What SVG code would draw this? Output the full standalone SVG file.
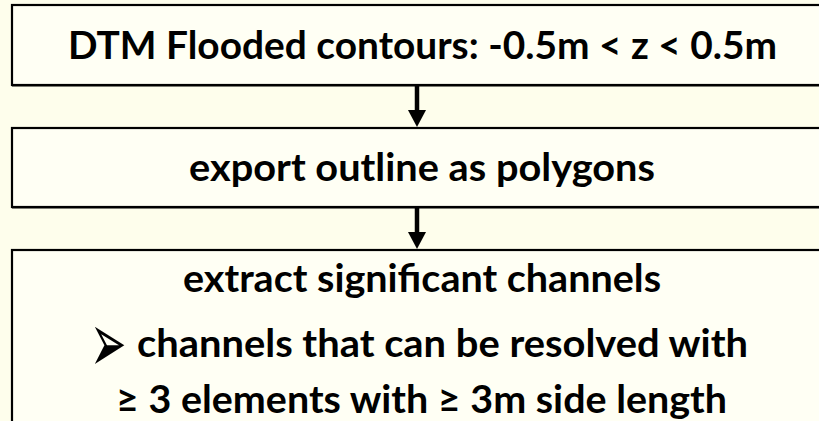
<svg xmlns="http://www.w3.org/2000/svg" width="819" height="421" viewBox="0 0 819 421">
  <defs>
    <style>
      .box { fill: #FFFFF4; stroke: #000; stroke-width: 2.2; }
      .shadow { fill: none; stroke: #8a8a80; stroke-width: 2; }
      .lbl { font-family: Lato, "Open Sans", "Liberation Sans", sans-serif; font-weight: 700; font-size: 39px; fill: #000; }
      .bullet { font-family: "DejaVu Sans", sans-serif; font-size: 50px; fill: #000; }
      .conn { stroke: #000; stroke-width: 4.5; fill: none; }
    </style>
    <marker id="head" markerUnits="userSpaceOnUse" markerWidth="18" markerHeight="18" viewBox="0 0 18 18" refX="1" refY="9" orient="auto">
      <path d="M0,0 L17,9 L0,18 Z" fill="#000"/>
    </marker>
  </defs>
  <rect x="0" y="0" width="819" height="421" fill="#FEFEEC"/>

  <g id="node-flooded">
    <rect class="shadow" x="13" y="6" width="820" height="80"/>
    <rect class="box" x="12" y="5" width="820" height="80"/>
    <text class="lbl" x="68" y="59" textLength="709" lengthAdjust="spacingAndGlyphs">DTM Flooded contours: -0.5m &lt; z &lt; 0.5m</text>
  </g>

  <g id="node-export">
    <rect class="shadow" x="13" y="129" width="820" height="79"/>
    <rect class="box" x="12" y="128" width="820" height="79"/>
    <text class="lbl" x="189" y="181" textLength="466" lengthAdjust="spacingAndGlyphs">export outline as polygons</text>
  </g>

  <g id="node-extract">
    <rect class="shadow" x="13" y="251" width="820" height="200"/>
    <rect class="box" x="12" y="250" width="820" height="200"/>
    <text class="lbl" x="183" y="292" textLength="478" lengthAdjust="spacingAndGlyphs">extract significant channels</text>
    <text class="bullet" x="-23" y="16.5" transform="translate(110,343.5) scale(0.87,1.7)">➢</text>
    <text class="lbl" x="137" y="357" textLength="611" lengthAdjust="spacingAndGlyphs">channels that can be resolved with</text>
    <text class="lbl" x="116" y="413" textLength="611" lengthAdjust="spacingAndGlyphs">≥ 3 elements with ≥ 3m side length</text>
  </g>

  <g id="connectors">
    <line class="conn" x1="417" y1="86" x2="417" y2="111" marker-end="url(#head)"/>
    <line class="conn" x1="417" y1="208" x2="417" y2="233" marker-end="url(#head)"/>
  </g>
</svg>
